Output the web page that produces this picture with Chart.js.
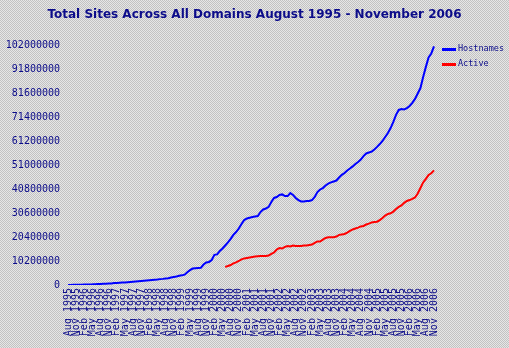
<!DOCTYPE html>
<html>
<head>
<meta charset="utf-8">
<script src="https://cdn.jsdelivr.net/npm/chart.js@4.4.0/dist/chart.umd.min.js"></script>
<style>
  html, body { margin: 0; padding: 0; background: #d4d4d4; }
  canvas { display: block; }
</style>
</head>
<body>
<canvas id="chart" width="509" height="348"></canvas>
<script>
// Monthly survey points, August 1995 to November 2006
const MONTH_NAMES = ['Jan','Feb','Mar','Apr','May','Jun','Jul','Aug','Sep','Oct','Nov','Dec'];
const categories = [];
for (let k = 0; k < 136; k++) {
  const m = (7 + k) % 12;
  const y = 1995 + Math.floor((7 + k) / 12);
  categories.push(MONTH_NAMES[m] + ' ' + y);
}

// Hostnames, millions of sites
const hostnames = [
  0.02, 0.04, 0.06, 0.08, 0.10, 0.13, 0.16, 0.20, 0.23, 0.27,
  0.35, 0.40, 0.45, 0.50, 0.55, 0.60, 0.65, 0.80, 0.90, 1.00,
  1.05, 1.10, 1.20, 1.30, 1.40, 1.50, 1.60, 1.70, 1.80, 1.90,
  2.00, 2.10, 2.20, 2.30, 2.50, 2.60, 2.80, 2.90, 3.20, 3.40,
  3.60, 3.90, 4.10, 4.40, 5.40, 6.30, 7.00, 7.10, 7.20, 7.30,
  8.70, 9.60, 9.80, 10.6, 12.8, 13.0, 14.5, 15.5, 16.8, 18.1,
  19.6, 21.3, 22.5, 24.0, 25.9, 27.6, 28.3, 28.6, 28.9, 29.1,
  29.3, 31.0, 32.1, 32.5, 33.2, 35.3, 37.0, 37.4, 38.3, 38.5,
  37.8, 37.8, 39.1, 38.3, 37.0, 36.1, 35.5, 35.5, 35.7, 35.7,
  36.1, 37.4, 39.5, 40.6, 41.2, 42.3, 43.1, 43.6, 44.0, 44.4,
  45.7, 46.8, 47.6, 48.7, 49.5, 50.4, 51.4, 52.3, 53.3, 54.8,
  55.9, 56.3, 56.7, 57.6, 58.7, 59.9, 61.2, 62.9, 64.6, 66.7,
  69.3, 72.3, 74.4, 74.8, 74.6, 75.2, 76.1, 77.4, 79.1, 81.4,
  83.7, 88.4, 92.7, 96.7, 98.4, 101.4
];

// Active sites, millions (survey begins June 2000)
const active = [
  null, null, null, null, null, null, null, null, null, null,
  null, null, null, null, null, null, null, null, null, null,
  null, null, null, null, null, null, null, null, null, null,
  null, null, null, null, null, null, null, null, null, null,
  null, null, null, null, null, null, null, null, null, null,
  null, null, null, null, null, null, null, null, 7.65, 8.1,
  8.5, 9.2, 9.6, 10.2, 10.9, 11.3, 11.5, 11.7, 11.9, 12.1,
  12.2, 12.3, 12.3, 12.3, 12.5, 13.2, 13.8, 15.1, 15.7, 15.5,
  16.2, 16.6, 16.4, 16.8, 16.6, 16.6, 16.6, 16.8, 16.8, 17.0,
  17.2, 17.9, 18.5, 18.5, 19.3, 20.0, 20.3, 20.3, 20.3, 20.6,
  21.3, 21.5, 21.7, 22.3, 23.0, 23.6, 24.0, 24.4, 24.9, 25.1,
  25.7, 26.1, 26.6, 26.8, 26.9, 27.6, 28.5, 29.5, 30.2, 30.5,
  31.2, 32.3, 33.2, 33.8, 34.9, 35.7, 36.1, 36.6, 37.2, 38.9,
  41.2, 43.6, 45.1, 46.8, 47.5, 48.7
];

// Y axis: 0 to 102,000,000 in steps of 10,200,000
const yMax = 102000000;
const yStep = 10200000;
const MILLION = 1000000;

const seriesLabels = ['Hostnames', 'Active'];
const seriesColors = ['#0000ff', '#ff0000'];

const NAVY = '#0c0c8a';
const MONO = '"DejaVu Sans Mono", monospace';

// dithered grey backdrop
const checkerPlugin = {
  id: 'checker',
  beforeDraw(chart) {
    const tile = document.createElement('canvas');
    tile.width = 2; tile.height = 2;
    const t = tile.getContext('2d');
    t.fillStyle = '#e6e6e6'; t.fillRect(0, 0, 2, 2);
    t.fillStyle = '#c2c2c2'; t.fillRect(0, 0, 1, 1); t.fillRect(1, 1, 1, 1);
    const ctx = chart.ctx;
    ctx.save();
    ctx.fillStyle = ctx.createPattern(tile, 'repeat');
    ctx.fillRect(0, 0, chart.width, chart.height);
    ctx.restore();
  }
};

// key at the right of the plot, one short bar and name per series
const sideLegendPlugin = {
  id: 'sideLegend',
  afterDraw(chart) {
    const ctx = chart.ctx;
    const area = chart.chartArea;
    const x = area.right + 8;
    ctx.save();
    ctx.font = '8.5px ' + MONO;
    ctx.textBaseline = 'middle';
    ctx.textAlign = 'left';
    chart.data.datasets.forEach((ds, k) => {
      const y = area.top + 4 + k * 15;
      ctx.fillStyle = ds.borderColor;
      ctx.fillRect(x, Math.round(y) - 1, 14, 3);
      ctx.fillStyle = NAVY;
      ctx.fillText(ds.label, x + 16, y);
    });
    ctx.restore();
  }
};

new Chart(document.getElementById('chart'), {
  type: 'line',
  data: {
    labels: categories,
    datasets: [
      {
        label: seriesLabels[0],
        data: hostnames.map(v => v * MILLION),
        borderColor: seriesColors[0],
        backgroundColor: seriesColors[0],
        borderWidth: 2,
        pointRadius: 0,
        tension: 0,
        fill: false
      },
      {
        label: seriesLabels[1],
        data: active.map(v => v === null ? null : v * MILLION),
        borderColor: seriesColors[1],
        backgroundColor: seriesColors[1],
        borderWidth: 2,
        pointRadius: 0,
        tension: 0,
        fill: false,
        spanGaps: false
      }
    ]
  },
  options: {
    responsive: false,
    animation: false,
    devicePixelRatio: 1,
    layout: { padding: 0 },
    plugins: {
      legend: { display: false },
      tooltip: { enabled: false },
      title: {
        display: true,
        text: 'Total Sites Across All Domains August 1995 - November 2006',
        color: NAVY,
        font: { family: '"DejaVu Sans"', size: 12, weight: 'bold' },
        padding: { top: 8, bottom: 22.6 }
      }
    },
    scales: {
      x: {
        type: 'category',
        offset: false,
        grid: { display: false, drawTicks: false },
        border: { display: false },
        afterFit(scale) { scale.height = 63; },
        ticks: {
          autoSkip: false,
          minRotation: 90,
          maxRotation: 90,
          padding: 3,
          color: NAVY,
          font: { family: MONO, size: 10 },
          callback(value, index) {
            return index % 3 === 0 ? categories[index] : '';
          }
        }
      },
      y: {
        min: 0,
        max: yMax,
        grid: { display: false, drawTicks: false },
        border: { display: false },
        afterFit(scale) { scale.width = 68; },
        ticks: {
          stepSize: yStep,
          padding: 8,
          color: NAVY,
          font: { family: MONO, size: 10 },
          callback(value) { return String(Math.round(value)); }
        }
      },
      // blank column on the right that holds the key
      keySpace: {
        type: 'linear',
        position: 'right',
        min: 0,
        max: yMax,
        grid: { display: false, drawTicks: false },
        border: { display: false },
        ticks: { display: false },
        afterFit(scale) { scale.width = 75; }
      }
    }
  },
  plugins: [checkerPlugin, sideLegendPlugin]
});
</script>
</body>
</html>
